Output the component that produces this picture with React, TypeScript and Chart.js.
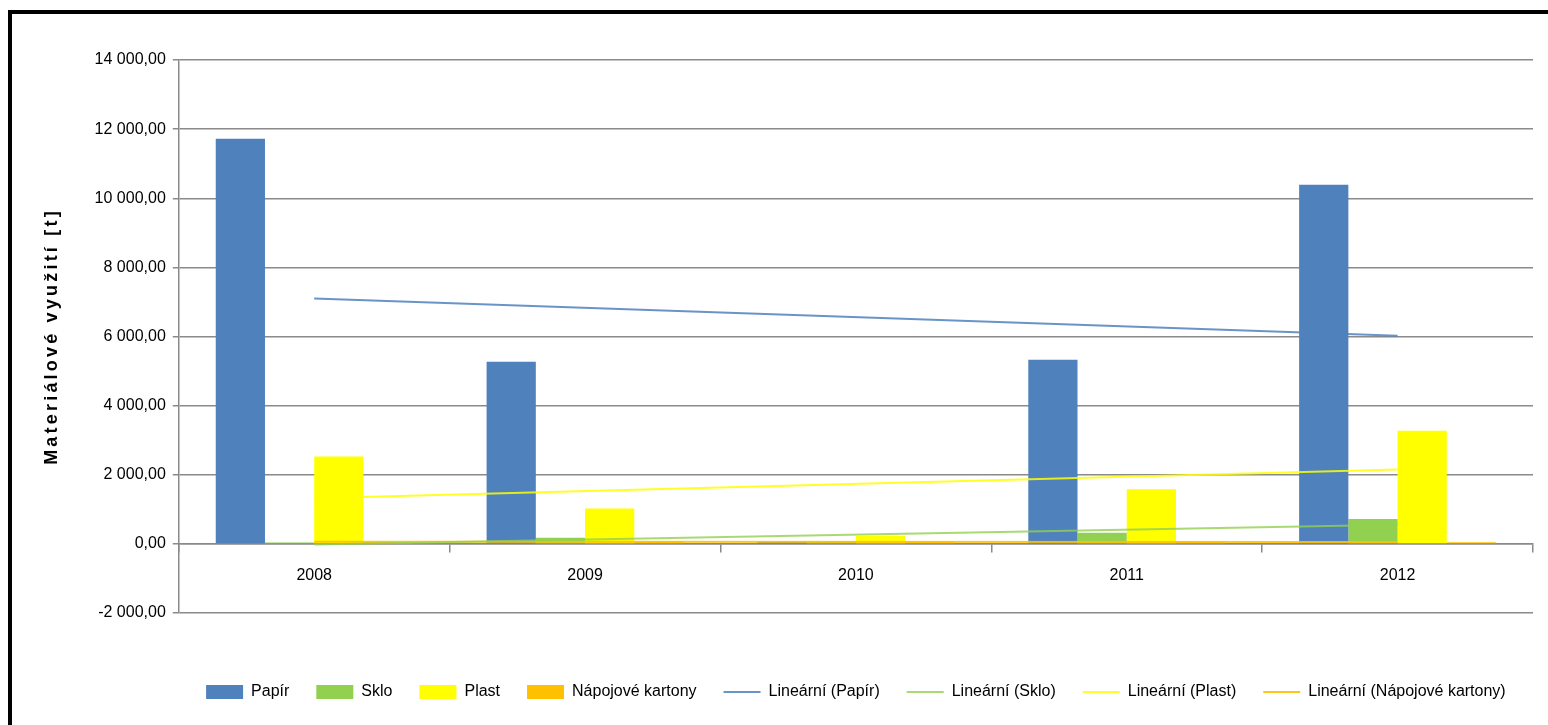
import React, { useEffect, useRef } from 'react';
import { Chart, registerables } from 'chart.js';

Chart.register(...registerables);

const FONT = "'Liberation Sans', Arial, sans-serif";
Chart.defaults.font.family = FONT;

const categories = ['2008', '2009', '2010', '2011', '2012'];
const papir = [11720, 5270, 60, 5330, 10390];
const sklo = [40, 180, 70, 320, 720];
const plast = [2530, 1020, 230, 1580, 3270];
const napojove = [55, 70, 65, 60, 45];

const trendPapir = [7100, null, null, null, 6020];
const trendSklo = [-20, null, null, null, 550];
const trendPlast = [1320, null, null, null, 2150];
const trendNapojove = [64, null, null, null, 56];

const yTickValues = [-2000, 0, 2000, 4000, 6000, 8000, 10000, 12000, 14000];
const yTickLabels = ['-2 000,00', '0,00', '2 000,00', '4 000,00', '6 000,00', '8 000,00', '10 000,00', '12 000,00', '14 000,00'];

const C_PAPIR = '#4F81BD';
const C_SKLO = '#92D050';
const C_PLAST = '#FFFF00';
const C_NAPOJ = '#FFC000';
const GRID = '#8a8a8a';

const titleSpacing = {
  id: 'titleSpacing',
  beforeDraw(chart: any) {
    const s: any = chart.scales.y;
    if (s && !s.__patched) {
      const orig = s.drawTitle.bind(s);
      s.drawTitle = () => {
        const ctx: any = chart.ctx;
        ctx.save();
        ctx.letterSpacing = '3.2px';
        orig();
        ctx.restore();
      };
      s.__patched = true;
    }
  },
};

export default function App() {
  const ref = useRef<HTMLCanvasElement | null>(null);

  useEffect(() => {
    if (!ref.current) return;
    const bar = (label: string, data: number[], color: string) => ({
      type: 'bar' as const,
      label,
      data,
      backgroundColor: color,
      borderWidth: 0,
      categoryPercentage: 0.727,
      barPercentage: 1,
      order: 1,
    });
    const trend = (label: string, data: (number | null)[], color: string) => ({
      type: 'line' as const,
      label,
      data,
      borderColor: color,
      backgroundColor: color,
      borderWidth: 2,
      pointRadius: 0,
      spanGaps: true,
      fill: false,
      order: 0,
    });
    const chart = new Chart(ref.current, {
      type: 'bar',
      data: {
        labels: categories,
        datasets: [
          bar('Papír', papir, C_PAPIR),
          bar('Sklo', sklo, C_SKLO),
          bar('Plast', plast, C_PLAST),
          bar('Nápojové kartony', napojove, C_NAPOJ),
          trend('Lineární (Papír)', trendPapir, 'rgba(79,129,189,0.85)'),
          trend('Lineární (Sklo)', trendSklo, 'rgba(146,208,80,0.8)'),
          trend('Lineární (Plast)', trendPlast, 'rgba(255,255,0,0.85)'),
          trend('Lineární (Nápojové kartony)', trendNapojove, 'rgba(255,192,0,0.9)'),
        ] as any,
      },
      options: {
        responsive: false,
        animation: false,
        layout: { padding: { top: 46, right: 15, left: 20, bottom: 0 } },
        plugins: {
          tooltip: { enabled: false },
          legend: {
            position: 'bottom',
            fullSize: false,
            title: { display: true, text: '', padding: { top: 0, bottom: 8 }, font: { size: 30 } },
            labels: {
              usePointStyle: true,
              pointStyleWidth: 37,
              boxHeight: 14,
              padding: 27,
              color: '#000',
              font: { size: 16, family: FONT },
              sort: (a: any, b: any) => a.datasetIndex - b.datasetIndex,
              generateLabels: (ch: any) => {
                const items = Chart.defaults.plugins.legend.labels.generateLabels(ch);
                return items.map((it: any) => {
                  const ds: any = ch.data.datasets[it.datasetIndex];
                  if (ds.type === 'line') {
                    return { ...it, pointStyle: 'line', strokeStyle: ds.borderColor, lineWidth: 2 };
                  }
                  return { ...it, pointStyle: 'rect', lineWidth: 0, fillStyle: ds.backgroundColor };
                });
              },
            },
          },
        },
        scales: {
          x: {
            position: { y: 0 } as any,
            grid: {
              display: true,
              drawOnChartArea: false,
              drawTicks: true,
              tickLength: 8,
              color: GRID,
              lineWidth: 1.5,
              offset: true,
            },
            border: { color: GRID, width: 1.5 },
            ticks: { color: '#000', font: { size: 16, family: FONT }, padding: 14 },
          },
          y: {
            min: -2000,
            max: 14000,
            ticks: {
              stepSize: 2000,
              color: '#000',
              font: { size: 16, family: FONT },
              padding: 7,
              callback: (v: any) => {
                const i = yTickValues.indexOf(Number(v));
                return i >= 0 ? yTickLabels[i] : '';
              },
            },
            grid: { color: GRID, lineWidth: 1.5, tickLength: 6 },
            border: { color: GRID, width: 1.5 },
            title: {
              display: true,
              text: 'Materiálové využití [t]',
              color: '#000',
              font: { size: 18, weight: 'bold', family: FONT },
              padding: { top: 9, bottom: 25 },
            },
          },
        },
      },
      plugins: [titleSpacing],
    } as any);
    return () => chart.destroy();
  }, []);

  return (
    <div style={{ position: 'fixed', inset: 0, overflow: 'hidden', background: '#fff' }}>
      <div
        style={{
          position: 'absolute',
          left: 8,
          top: 10,
          width: 1600,
          height: 800,
          border: '4px solid #000',
          boxSizing: 'border-box',
        }}
      >
        <canvas ref={ref} width={1536} height={696} style={{ display: 'block', width: 1536, height: 696 }} />
      </div>
    </div>
  );
}
